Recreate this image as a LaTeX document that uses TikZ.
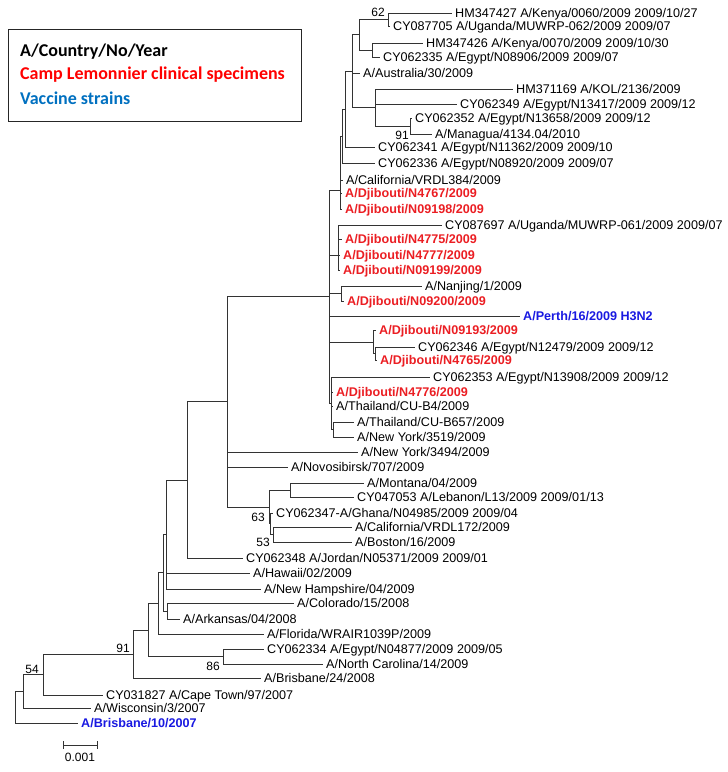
\documentclass[tikz,border=0pt]{standalone}
\usepackage{fontspec}
\setmainfont{Liberation Sans}
\newfontfamily\legendfont{Carlito}
\usepackage{tikz}
\usetikzlibrary{calc}
\usetikzlibrary{positioning}

\definecolor{djred}{RGB}{235,30,35}
\definecolor{vacblue}{RGB}{25,25,225}
\definecolor{legblue}{RGB}{0,112,192}

\begin{document}
\begin{tikzpicture}[x=1pt,y=-1pt,
    branch/.style={line width=0.9pt, draw=black!80},
    leaf/.style={anchor=west, inner xsep=3pt, inner ysep=0pt, text height=9pt, text depth=0pt, font=\fontsize{12.6}{14}\selectfont},
    djib/.style={leaf, text=djred, font=\fontsize{12.6}{14}\selectfont\bfseries},
    vacc/.style={leaf, text=vacblue, font=\fontsize{12.6}{14}\selectfont\bfseries},
    boot/.style={anchor=east, inner sep=0pt, text height=9pt, text depth=0pt, font=\fontsize{12}{14}\selectfont},
    legline/.style={anchor=west, inner sep=0pt, text height=11.6pt, text depth=0pt, font=\legendfont\fontsize{18}{20}\selectfont\bfseries}]

    \useasboundingbox (0,0) rectangle (728,772);

    % legend
    \node[draw=black!85, line width=1.1pt, minimum width=293pt, minimum height=92pt, anchor=north west] (legend) at (8,29) {};
    \node[legline] (legA) at (20,51) {A/Country/No/Year};
    \node[legline, text=red] (legB) at (20,74) {Camp Lemonnier clinical specimens};
    \node[legline, text=legblue] (legC) at (20,99) {Vaccine strains};

    % inner nodes
    \coordinate (nA1) at (388,19.5);
    \coordinate (nA2) at (372,50);
    \coordinate (nA) at (359,34.75);
    \coordinate (nD) at (410,126);
    \coordinate (nE) at (375,107.5);
    \coordinate (nB) at (352,71);
    \coordinate (nY) at (345,109);
    \coordinate (nZ) at (342,136);
    \coordinate (nF) at (340,190);
    \coordinate (nH) at (338,255);
    \coordinate (nI) at (341,293.5);
    \coordinate (nJ2) at (375,353.5);
    \coordinate (nJ) at (373,342);
    \coordinate (nK2) at (333,429.5);
    \coordinate (nK) at (331,403.5);
    \coordinate (nG) at (329,296.75);
    \coordinate (nM1) at (290,490);
    \coordinate (nM2) at (273,534.5);
    \coordinate (nM3) at (270,523.75);
    \coordinate (nM) at (269,507);
    \coordinate (nL) at (227,401.9);
    \coordinate (nN) at (187,480);
    \coordinate (nX) at (166,534.5);
    \coordinate (nC2) at (167,611);
    \coordinate (nO) at (163,572.75);
    \coordinate (nP) at (158,603.4);
    \coordinate (nR) at (223,656.5);
    \coordinate (nQ) at (148,630);
    \coordinate (nT) at (133,654);
    \coordinate (nU) at (43,674.5);
    \coordinate (nV) at (23,691.25);
    \coordinate (root) at (15,707);

    % leaves
    \node[leaf] (kenyaA) at (452,13) {HM347427 A/Kenya/0060/2009 2009/10/27};
    \node[leaf] (ugandaA) at (390,26) {CY087705 A/Uganda/MUWRP-062/2009 2009/07};
    \node[leaf] (kenyaB) at (423,43) {HM347426 A/Kenya/0070/2009 2009/10/30};
    \node[leaf] (egyptA) at (380,57) {CY062335 A/Egypt/N08906/2009 2009/07};
    \node[leaf] (australia) at (360,73) {A/Australia/30/2009};
    \node[leaf] (kol) at (513,89) {HM371169 A/KOL/2136/2009};
    \node[leaf] (egyptB) at (457,104) {CY062349 A/Egypt/N13417/2009 2009/12};
    \node[leaf] (egyptC) at (412,118) {CY062352 A/Egypt/N13658/2009 2009/12};
    \node[leaf] (managua) at (432,134) {A/Managua/4134.04/2010};
    \node[leaf] (egyptD) at (375,147) {CY062341 A/Egypt/N11362/2009 2009/10};
    \node[leaf] (egyptE) at (375,163) {CY062336 A/Egypt/N08920/2009 2009/07};
    \node[leaf] (calif384) at (343,180) {A/California/VRDL384/2009};
    \node[djib] (dj4767) at (342,193) {A/Djibouti/N4767/2009};
    \node[djib] (dj09198) at (342,209) {A/Djibouti/N09198/2009};
    \node[leaf] (ugandaB) at (442,225) {CY087697 A/Uganda/MUWRP-061/2009 2009/07};
    \node[djib] (dj4775) at (342,239) {A/Djibouti/N4775/2009};
    \node[djib] (dj4777) at (340,255) {A/Djibouti/N4777/2009};
    \node[djib] (dj09199) at (340,270) {A/Djibouti/N09199/2009};
    \node[leaf] (nanjing) at (422,286) {A/Nanjing/1/2009};
    \node[djib] (dj09200) at (344,301) {A/Djibouti/N09200/2009};
    \node[vacc] (perth) at (520,316) {A/Perth/16/2009 H3N2};
    \node[djib] (dj09193) at (376,330) {A/Djibouti/N09193/2009};
    \node[leaf] (egyptF) at (415,347) {CY062346 A/Egypt/N12479/2009 2009/12};
    \node[djib] (dj4765) at (377,360) {A/Djibouti/N4765/2009};
    \node[leaf] (egyptG) at (430,377) {CY062353 A/Egypt/N13908/2009 2009/12};
    \node[djib] (dj4776) at (333,392) {A/Djibouti/N4776/2009};
    \node[leaf] (thaiA) at (333,406) {A/Thailand/CU-B4/2009};
    \node[leaf] (thaiB) at (354,422) {A/Thailand/CU-B657/2009};
    \node[leaf] (nyA) at (354,437) {A/New York/3519/2009};
    \node[leaf] (nyB) at (358,452) {A/New York/3494/2009};
    \node[leaf] (novosib) at (288,467) {A/Novosibirsk/707/2009};
    \node[leaf] (montana) at (364,483) {A/Montana/04/2009};
    \node[leaf] (lebanon) at (354,497) {CY047053 A/Lebanon/L13/2009 2009/01/13};
    \node[leaf] (ghana) at (273,513) {CY062347-A/Ghana/N04985/2009 2009/04};
    \node[leaf] (calif172) at (352,527) {A/California/VRDL172/2009};
    \node[leaf] (boston) at (352,542) {A/Boston/16/2009};
    \node[leaf] (jordan) at (243,558) {CY062348 A/Jordan/N05371/2009 2009/01};
    \node[leaf] (hawaii) at (250,573) {A/Hawaii/02/2009};
    \node[leaf] (newhamp) at (261,589) {A/New Hampshire/04/2009};
    \node[leaf] (colorado) at (294,603) {A/Colorado/15/2008};
    \node[leaf] (arkansas) at (180,619) {A/Arkansas/04/2008};
    \node[leaf] (florida) at (264,634) {A/Florida/WRAIR1039P/2009};
    \node[leaf] (egyptH) at (264,649) {CY062334 A/Egypt/N04877/2009 2009/05};
    \node[leaf] (carolina) at (323,664) {A/North Carolina/14/2009};
    \node[leaf] (brisbB) at (261,678) {A/Brisbane/24/2008};
    \node[leaf] (capetown) at (103,695) {CY031827 A/Cape Town/97/2007};
    \node[leaf] (wisconsin) at (91,708) {A/Wisconsin/3/2007};
    \node[vacc] (brisbA) at (78,723) {A/Brisbane/10/2007};

    % branches
    \draw[branch] (nA1) |- (kenyaA.west) (nA1) |- (ugandaA.west);
    \draw[branch] (nA2) |- (kenyaB.west) (nA2) |- (egyptA.west);
    \draw[branch] (nA) |- (nA1) (nA) |- (nA2);
    \draw[branch] (nD) |- (egyptC.west) (nD) |- (managua.west);
    \draw[branch] (nE) |- (kol.west) (nE) |- (egyptB.west) (nE) |- (nD);
    \draw[branch] (nB) |- (nA) (nB) |- (australia.west) (nB) |- (nE);
    \draw[branch] (nY) |- (nB) (nY) |- (egyptD.west);
    \draw[branch] (nZ) |- (nY) (nZ) |- (egyptE.west);
    \draw[branch] (nF) |- (nZ) (nF) |- (calif384.west) (nF) |- (dj4767.west) (nF) |- (dj09198.west);
    \draw[branch] (nH) |- (ugandaB.west) (nH) |- (dj4775.west) (nH) |- (dj4777.west) (nH) |- (dj09199.west);
    \draw[branch] (nI) |- (nanjing.west) (nI) |- (dj09200.west);
    \draw[branch] (nJ2) |- (egyptF.west) (nJ2) |- (dj4765.west);
    \draw[branch] (nJ) |- (dj09193.west) (nJ) |- (nJ2);
    \draw[branch] (nK2) |- (thaiB.west) (nK2) |- (nyA.west);
    \draw[branch] (nK) |- (egyptG.west) (nK) |- (dj4776.west) (nK) |- (thaiA.west) (nK) |- (nK2);
    \draw[branch] (nG) |- (nF) (nG) |- (nH) (nG) |- (nI) (nG) |- (perth.west) (nG) |- (nJ) (nG) |- (nK);
    \draw[branch] (nM1) |- (montana.west) (nM1) |- (lebanon.west);
    \draw[branch] (nM2) |- (calif172.west) (nM2) |- (boston.west);
    \draw[branch] (nM3) |- (ghana.west) (nM3) |- (nM2);
    \draw[branch] (nM) |- (nM1) (nM) |- (nM3);
    \draw[branch] (nL) |- (nG) (nL) |- (nyB.west) (nL) |- (novosib.west) (nL) |- (nM);
    \draw[branch] (nN) |- (nL) (nN) |- (jordan.west);
    \draw[branch] (nX) |- (nN) (nX) |- (hawaii.west) (nX) |- (newhamp.west);
    \draw[branch] (nC2) |- (colorado.west) (nC2) |- (arkansas.west);
    \draw[branch] (nO) |- (nX) (nO) |- (nC2);
    \draw[branch] (nP) |- (nO) (nP) |- (florida.west);
    \draw[branch] (nR) |- (egyptH.west) (nR) |- (carolina.west);
    \draw[branch] (nQ) |- (nP) (nQ) |- (nR);
    \draw[branch] (nT) |- (nQ) (nT) |- (brisbB.west);
    \draw[branch] (nU) |- (nT) (nU) |- (capetown.west);
    \draw[branch] (nV) |- (nU) (nV) |- (wisconsin.west);
    \draw[branch] (root) |- (nV) (root) |- (brisbA.west);

    % bootstrap values
    \node[boot] (b62) at (385,12) {62};
    \node[boot] (b91a) at (409,135) {91};
    \node[boot] (b63) at (265,517) {63};
    \node[boot] (b53) at (270,542) {53};
    \node[boot] (b91b) at (130,648) {91};
    \node[boot] (b86) at (220,666) {86};
    \node[boot] (b54) at (39,669) {54};

    % scale bar
    \coordinate (sbL) at (63,745);
    \coordinate (sbR) at (97,745);
    \draw[branch] (sbL) -- (sbR);
    \draw[branch] ($(sbL)+(0,-4)$) -- ($(sbL)+(0,4)$);
    \draw[branch] ($(sbR)+(0,-4)$) -- ($(sbR)+(0,4)$);
    \node[boot, anchor=north] (sblabel) at ($(sbL)!0.5!(sbR)+(0,7)$) {0.001};

\end{tikzpicture}
\end{document}
